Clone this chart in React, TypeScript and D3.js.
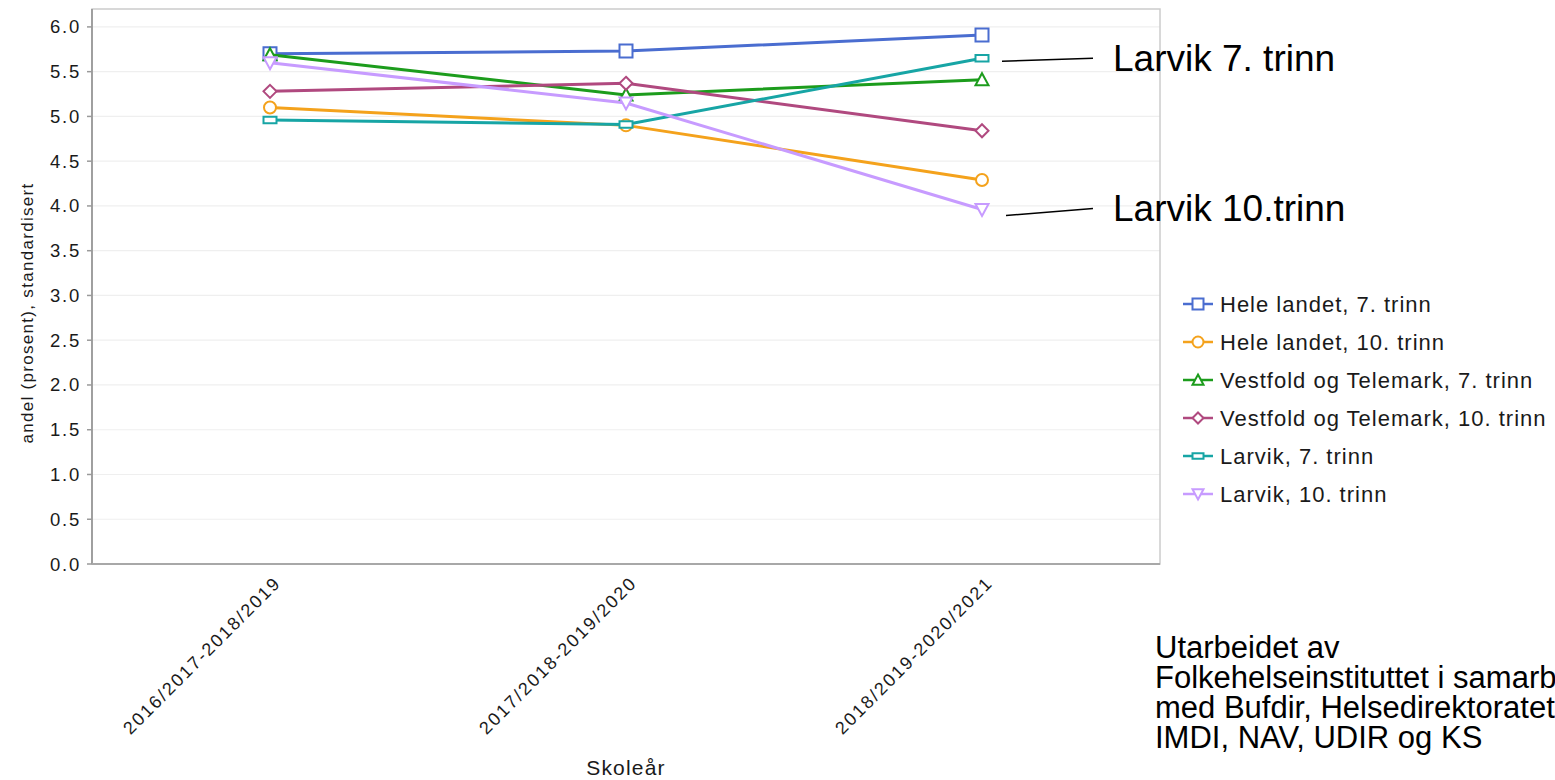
import React from "react";
import * as d3 from "d3";

const categories = ["2016/2017-2018/2019", "2017/2018-2019/2020", "2018/2019-2020/2021"];
const seriesNames = [
  "Hele landet, 7. trinn",
  "Hele landet, 10. trinn",
  "Vestfold og Telemark, 7. trinn",
  "Vestfold og Telemark, 10. trinn",
  "Larvik, 7. trinn",
  "Larvik, 10. trinn",
];
const heleLandet7 = [5.7, 5.73, 5.91];
const heleLandet10 = [5.1, 4.9, 4.29];
const vestfold7 = [5.69, 5.24, 5.41];
const vestfold10 = [5.28, 5.37, 4.84];
const larvik7 = [4.96, 4.91, 5.65];
const larvik10 = [5.6, 5.15, 3.96];
const seriesValues = [heleLandet7, heleLandet10, vestfold7, vestfold10, larvik7, larvik10];
const colors = ["#4a6dd0", "#f4a21c", "#1c9c1c", "#b0497f", "#17a5a5", "#c79bff"];
const markerTypes = ["square", "circle", "triUp", "diamond", "rect", "triDown"];
const yTicks = [0, 0.5, 1, 1.5, 2, 2.5, 3, 3.5, 4, 4.5, 5, 5.5, 6];
const yTitle = "andel (prosent), standardisert";
const xTitle = "Skoleår";
const annotations = [
  { series: 4, text: "Larvik 7. trinn" },
  { series: 5, text: "Larvik 10.trinn" },
];
const footer = [
  "Utarbeidet av",
  "Folkehelseinstituttet i samarbeid",
  "med Bufdir, Helsedirektoratet,",
  "IMDI, NAV, UDIR og KS",
];

const FONT = "'Liberation Sans', Arial, sans-serif";

function markerPath(type: string, s: number): string {
  const h = s / 2;
  switch (type) {
    case "square":
      return `M${-h},${-h}H${h}V${h}H${-h}Z`;
    case "circle":
      return `M${-h},0A${h},${h} 0 1,0 ${h},0A${h},${h} 0 1,0 ${-h},0Z`;
    case "triUp":
      return `M0,${-h}L${h},${h * 0.85}L${-h},${h * 0.85}Z`;
    case "triDown":
      return `M0,${h}L${h},${-h * 0.85}L${-h},${-h * 0.85}Z`;
    case "diamond":
      return `M0,${-h}L${h},0L0,${h}L${-h},0Z`;
    case "rect":
      return `M${-h},${-h * 0.5}H${h}V${h * 0.5}H${-h}Z`;
  }
  return "";
}

export default function App() {
  const left = 92, right = 1160, top = 9, bottom = 564;
  const x = d3.scaleBand<string>().domain(categories).range([left, right]);
  const y = d3.scaleLinear().domain([0, 6.2]).range([bottom, top]);
  const cx = (c: string) => (x(c) as number) + x.bandwidth() / 2;
  const line = d3
    .line<number>()
    .x((_, i) => cx(categories[i]))
    .y((d) => y(d));

  const legendX = 1183;
  const legendY0 = 304;
  const legendStep = 38;

  return (
    <svg
      width={1555}
      height={780}
      style={{ position: "absolute", left: 0, top: 0, background: "#fff" }}
      fontFamily={FONT}
    >
      <rect x={0} y={0} width={1555} height={780} fill="#fff" />
      {/* grid */}
      {yTicks.map((t) => (
        <line key={"g" + t} x1={left} x2={right} y1={y(t)} y2={y(t)} stroke="#efefef" strokeWidth={1.2} />
      ))}
      {/* frame */}
      <rect x={left} y={top} width={right - left} height={bottom - top} fill="none" stroke="#cccccc" strokeWidth={1.5} />
      <line x1={left} x2={left} y1={top} y2={bottom} stroke="#9a9a9a" strokeWidth={1.8} />
      <line x1={left} x2={right} y1={bottom} y2={bottom} stroke="#a8a8a8" strokeWidth={1.8} />
      {/* y ticks */}
      {yTicks.map((t) => (
        <g key={"t" + t}>
          <line x1={left - 5} x2={left} y1={y(t)} y2={y(t)} stroke="#9a9a9a" strokeWidth={1.5} />
          <text x={81} y={y(t) + 6.5} textAnchor="end" fontSize={18.5} letterSpacing={1.8} fill="#1a1a1a">
            {d3.format(".1f")(t)}
          </text>
        </g>
      ))}
      {/* y title */}
      <text
        transform={`translate(33,313) rotate(-90)`}
        textAnchor="middle"
        fontSize={17}
        letterSpacing={1.3}
        fill="#1a1a1a"
      >
        {yTitle}
      </text>
      {/* x tick labels */}
      {categories.map((c) => (
        <text
          key={c}
          transform={`translate(${cx(c) + 12},${bottom + 20}) rotate(-45)`}
          textAnchor="end"
          fontSize={18}
          letterSpacing={2}
          fill="#1a1a1a"
        >
          {c}
        </text>
      ))}
      <text x={626} y={775} textAnchor="middle" fontSize={21} letterSpacing={1.2} fill="#1a1a1a">
        {xTitle}
      </text>
      {/* series */}
      {seriesValues.map((vals, si) => (
        <g key={"s" + si}>
          <path d={line(vals) || ""} fill="none" stroke={colors[si]} strokeWidth={3} />
          {vals.map((v, i) => (
            <path
              key={i}
              d={markerPath(markerTypes[si], markerTypes[si] === "circle" ? 12 : 13)}
              transform={`translate(${cx(categories[i])},${y(v)})`}
              fill="#fff"
              stroke={colors[si]}
              strokeWidth={2}
            />
          ))}
        </g>
      ))}
      {/* legend */}
      {seriesNames.map((n, i) => {
        const ly = legendY0 + i * legendStep;
        return (
          <g key={"l" + i}>
            <line x1={legendX} x2={legendX + 30} y1={ly} y2={ly} stroke={colors[i]} strokeWidth={2.5} />
            <path
              d={markerPath(markerTypes[i], 11)}
              transform={`translate(${legendX + 15},${ly})`}
              fill="#fff"
              stroke={colors[i]}
              strokeWidth={2}
            />
            <text x={legendX + 37} y={ly + 8} fontSize={22} letterSpacing={1} fill="#1a1a1a">
              {n}
            </text>
          </g>
        );
      })}
      {/* annotations */}
      {annotations.map((a) => {
        const vals = seriesValues[a.series];
        const last = vals[vals.length - 1];
        const px = cx(categories[categories.length - 1]);
        const py = y(last);
        const up = a.series === 4;
        return (
          <g key={a.text}>
            <line
              x1={px + (up ? 20 : 24)}
              y1={py + (up ? 3 : 6)}
              x2={1093}
              y2={py + (up ? 0 : -1)}
              stroke="#000"
              strokeWidth={1.5}
            />
            <text x={1113} y={py + (up ? 13 : 11)} fontSize={37} fill="#000">
              {a.text}
            </text>
          </g>
        );
      })}
      {/* footer */}
      {footer.map((f, i) => (
        <text key={f} x={1155} y={658 + i * 30} fontSize={31} fill="#000">
          {f}
        </text>
      ))}
    </svg>
  );
}
